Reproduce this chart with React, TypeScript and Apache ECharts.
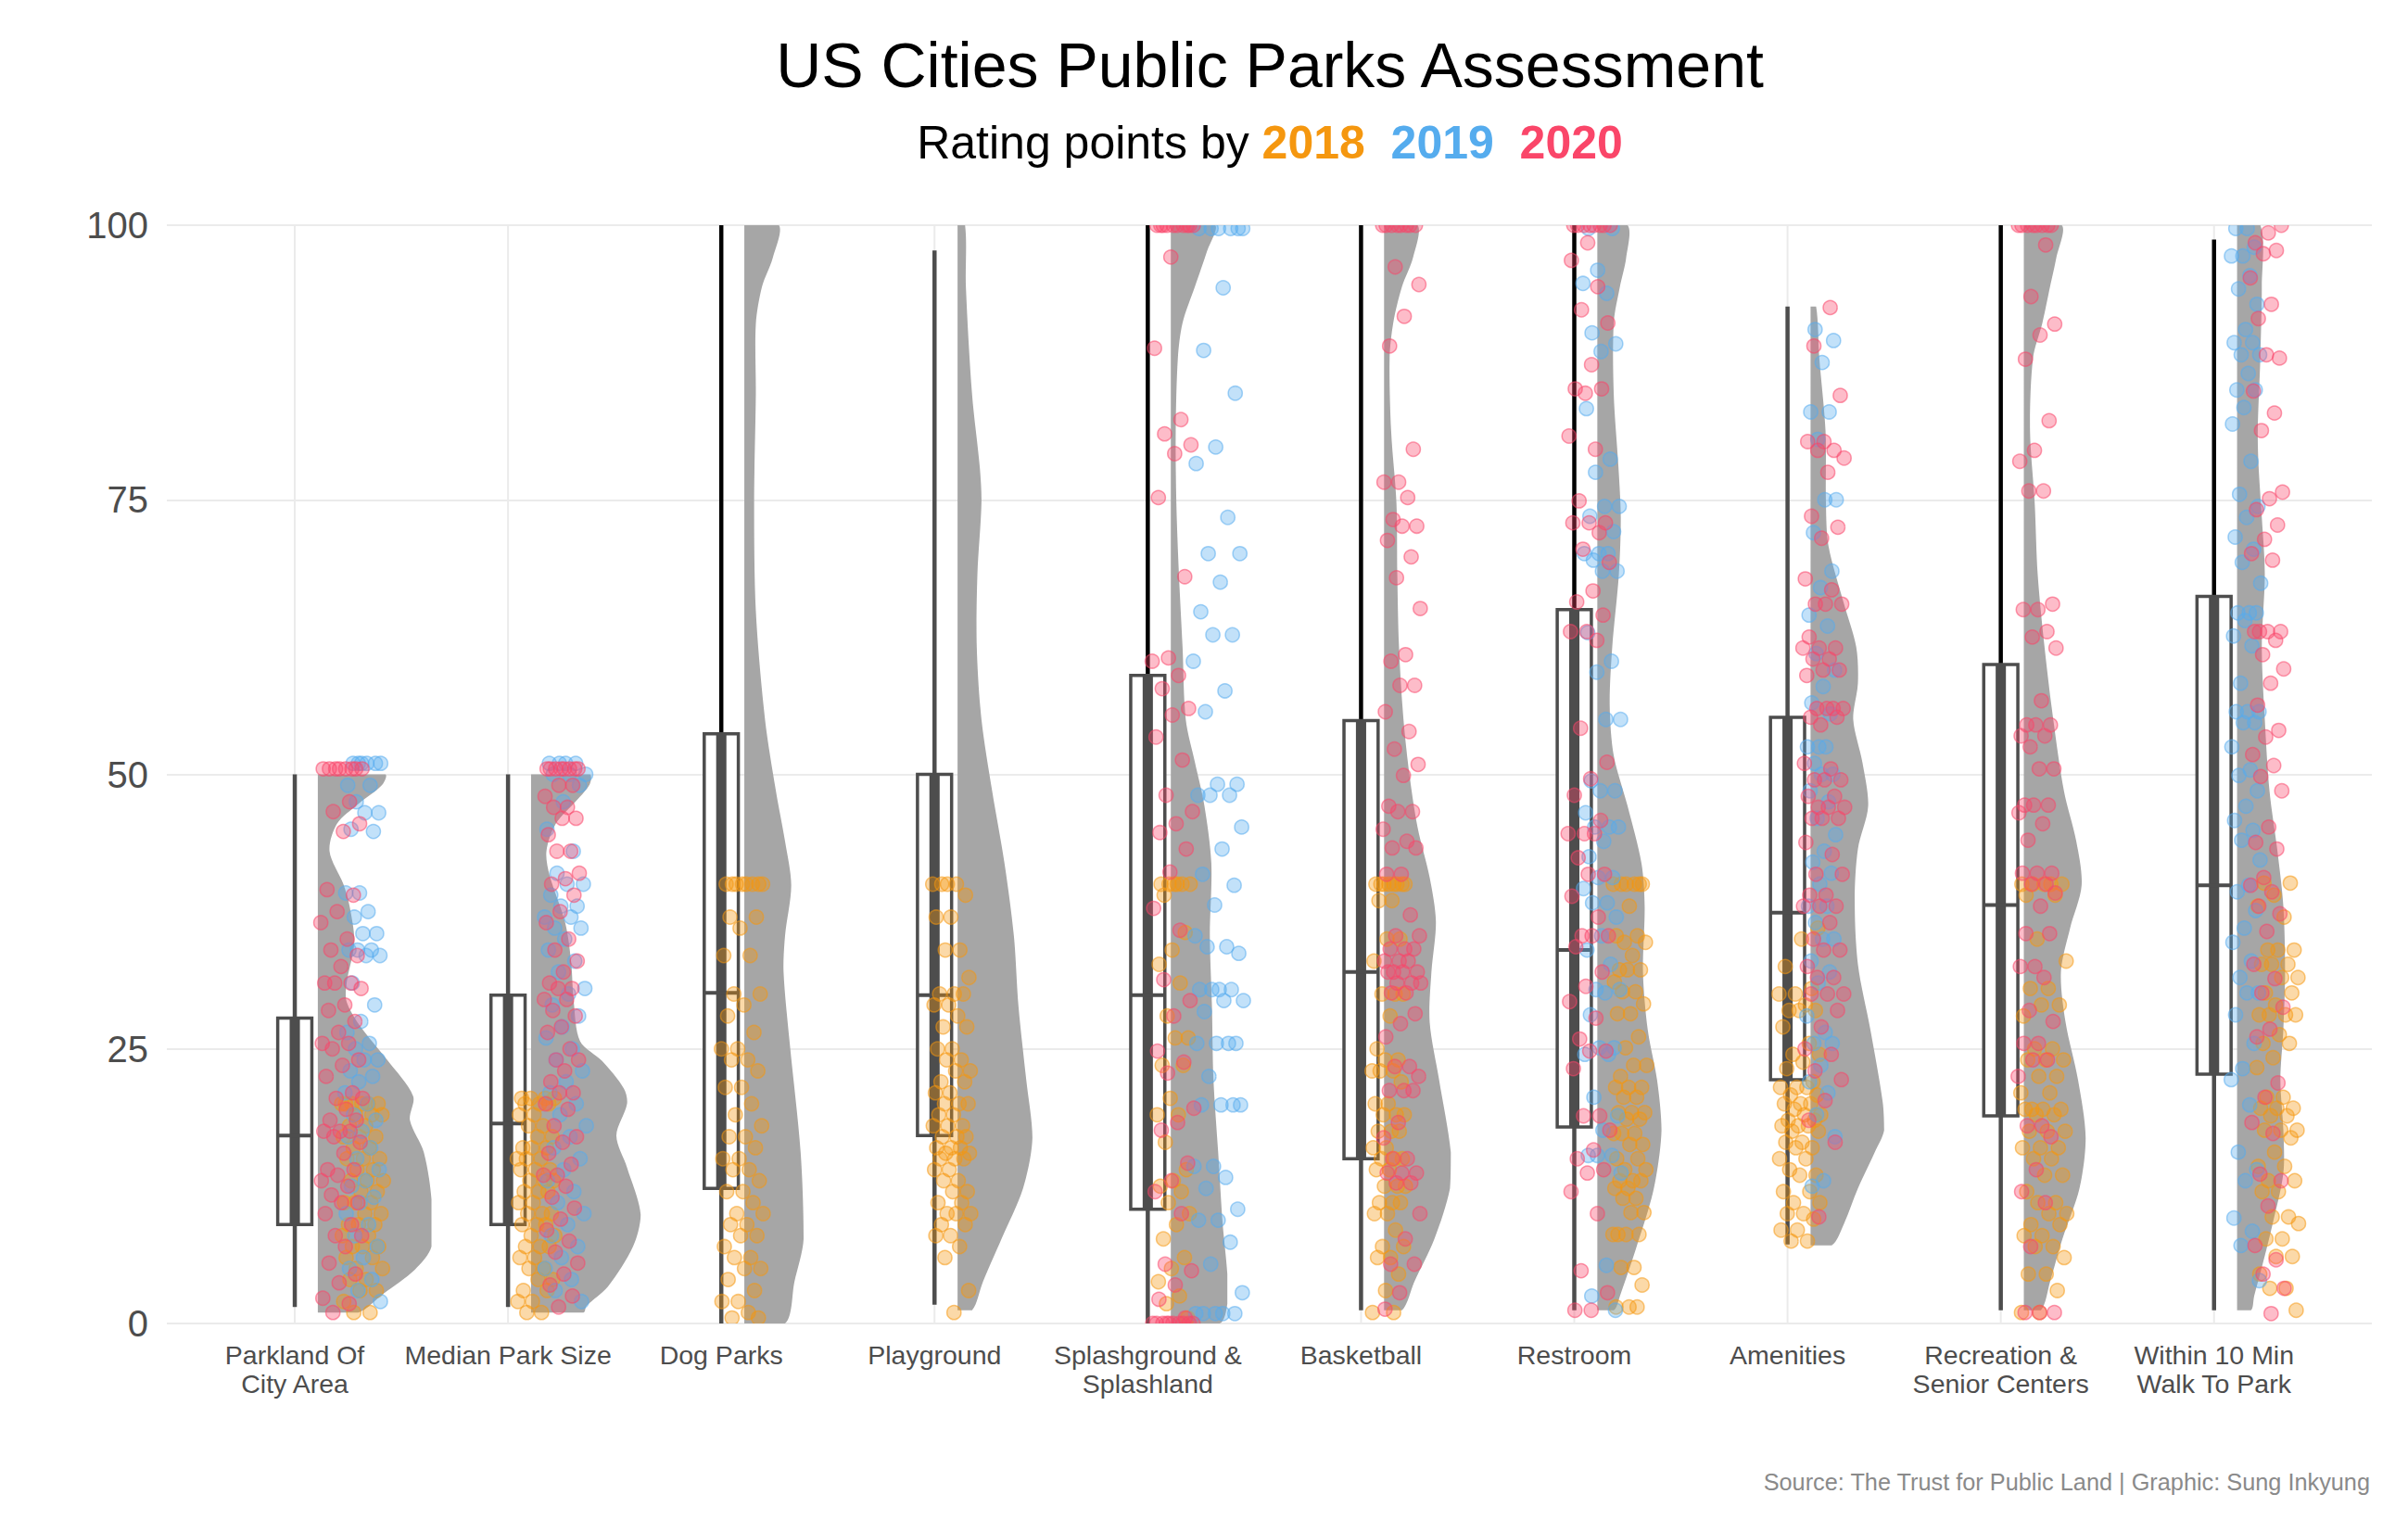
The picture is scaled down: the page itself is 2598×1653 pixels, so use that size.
import React, { useEffect, useRef } from "react";
import * as echarts from "echarts";

const FONT = "'Liberation Sans', Arial, Helvetica, sans-serif";

// ---------- categories & ticks ----------
const categories = [
  "Parkland Of\nCity Area",
  "Median Park Size",
  "Dog Parks",
  "Playground",
  "Splashground &\nSplashland",
  "Basketball",
  "Restroom",
  "Amenities",
  "Recreation &\nSenior Centers",
  "Within 10 Min\nWalk To Park",
];
const catPositions = [1, 2, 3, 4, 5, 6, 7, 8, 9, 10];
const yTicks = [0, 25, 50, 75, 100];
const years = ["2018", "2019", "2020"];
const yearFill = ["rgba(245,151,15,0.36)", "rgba(85,172,238,0.36)", "rgba(250,70,105,0.36)"];
const yearStroke = ["rgba(245,151,15,0.55)", "rgba(85,172,238,0.55)", "rgba(250,70,105,0.55)"];
const yearText = ["#F5970F", "#55ACEE", "#FA4669"];

// ---------- box statistics ----------
const whiskerLow = [1.5, 1.5, 0, 1.7, 0, 1.2, 1.2, 7.2, 1.2, 1.2];
const boxQ1 = [9, 9, 12.3, 17.1, 10.4, 15, 17.9, 22.2, 18.9, 22.7];
const boxMedian = [17.1, 18.2, 30.1, 29.9, 29.9, 32, 34, 37.4, 38.1, 39.9];
const boxQ3 = [27.8, 29.9, 53.7, 50, 59, 54.9, 65, 55.2, 60, 66.2];
const whiskerHigh = [50, 50, 100, 97.7, 100, 100, 100, 92.6, 100, 98.7];

// ---------- half-violin density profiles: [value, width] ----------
const violinParkland = [[1,0.19],[2.7,0.307],[4.9,0.455],[7,0.533],[11.3,0.533],[15.6,0.497],[18.5,0.432],[20.7,0.447],[24,0.325],[27.2,0.194],[29.3,0.135],[31,0.135],[34.7,0.171],[38,0.149],[40,0.12],[43,0.055],[45.5,0.09],[47.3,0.19],[49,0.3],[50,0.316]];
const violinMedian = [[1,0.246],[1.6,0.26],[3.4,0.362],[7,0.478],[9.9,0.514],[14.2,0.45],[17.1,0.4],[20,0.45],[21.4,0.435],[23.9,0.333],[25.7,0.23],[29.3,0.2],[32.9,0.188],[36.5,0.16],[40.8,0.087],[43,0.072],[45.5,0.116],[47.7,0.217],[49.1,0.275],[50,0.275]];
const violinDog = [[0,0.191],[3.8,0.235],[7.7,0.278],[15.6,0.264],[25.5,0.213],[32,0.184],[35.3,0.191],[39.9,0.22],[43.9,0.191],[48.5,0.148],[55,0.097],[64.9,0.054],[74.7,0.046],[84.6,0.054],[91,0.054],[94.4,0.083],[97,0.133],[100,0.162]];
const violinPlayground = [[1.2,0.068],[3.8,0.119],[7.7,0.206],[12.3,0.307],[16.9,0.351],[22.2,0.322],[28.8,0.286],[35.3,0.264],[41.9,0.22],[48.5,0.162],[55,0.112],[61.6,0.09],[68.2,0.093],[74.7,0.112],[78,0.104],[84.6,0.068],[94.4,0.039],[100,0.035]];
const violinSplash = [[0,0.229],[1.8,0.265],[4.5,0.265],[9.1,0.243],[15.6,0.222],[22.2,0.2],[28.8,0.193],[35.3,0.183],[41.9,0.19],[47.2,0.157],[51.1,0.113],[55,0.07],[61.6,0.055],[68.2,0.038],[74.7,0.026],[81.3,0.023],[87.9,0.033],[91.1,0.055],[94.4,0.113],[97.7,0.171],[100,0.207]];
const violinBasketball = [[1.2,0.084],[3.8,0.142],[7.7,0.236],[12.3,0.309],[15.6,0.313],[22.2,0.258],[27.4,0.214],[32,0.222],[36.6,0.243],[40.6,0.214],[45.2,0.157],[49.8,0.12],[55,0.091],[61.6,0.07],[68.2,0.062],[74.7,0.058],[81.3,0.033],[87.9,0.026],[91.1,0.043],[94.4,0.084],[97,0.135],[100,0.157]];
const violinRestroom = [[1.2,0.077],[2.5,0.106],[7.1,0.186],[12.3,0.265],[17.6,0.301],[22.2,0.28],[26.8,0.236],[32,0.214],[38,0.222],[41.9,0.207],[47.1,0.142],[51.7,0.077],[56.3,0.058],[61.6,0.07],[68.2,0.101],[73.4,0.11],[78,0.099],[84.6,0.077],[91.1,0.077],[94.4,0.106],[97,0.135],[100,0.142]];
const violinAmenities = [[7.1,0.099],[9.1,0.157],[12.3,0.222],[15.6,0.301],[17.6,0.345],[20.2,0.338],[26.8,0.28],[32.7,0.222],[38.6,0.207],[43.2,0.222],[47.1,0.27],[51.1,0.243],[55,0.2],[58.3,0.222],[61.6,0.214],[65.5,0.157],[70.8,0.084],[74.7,0.072],[81.3,0.07],[87.9,0.041],[92.6,0.026]];
const violinRecreation = [[1.2,0.08],[3.8,0.123],[7.7,0.181],[12.3,0.261],[16.9,0.29],[22.2,0.254],[27.4,0.196],[32,0.174],[36,0.217],[39.9,0.271],[43.9,0.246],[48.5,0.188],[55,0.138],[61.6,0.097],[68.2,0.065],[74.7,0.051],[81.3,0.029],[87.9,0.043],[91.1,0.087],[94.4,0.123],[97,0.152],[100,0.178]];
const violinWithin = [[1.2,0.065],[2.5,0.08],[5.1,0.116],[9.1,0.167],[13.7,0.217],[17.6,0.217],[22.2,0.203],[26.8,0.217],[32,0.225],[38,0.217],[43.2,0.188],[48.5,0.152],[55,0.13],[61.6,0.116],[68.2,0.13],[73.4,0.116],[78,0.101],[81.3,0.097],[87.9,0.109],[94.4,0.116],[100,0.109]];
const violins = [violinParkland, violinMedian, violinDog, violinPlayground, violinSplash, violinBasketball, violinRestroom, violinAmenities, violinRecreation, violinWithin];

// ---------- rating points ----------
const parkland2018 = [20,20,20,20,20,20,19,19,19,18,18,17,17,17,16,16,15,15,15,14,14,13,13,13,12,12,11,11,11,10,10,9,9,9,8,8,7,7,7,6,6,5,5,4,4,3,3,2,1,1];
const parkland2019 = [51,51,51,51,51,51,49,49,47.5,46.5,46.5,45,44.8,39.2,39.2,37.5,37,35.5,35.5,34,34,34,33.5,33.5,31,29,27.5,26.5,25.5,25,24,24,23,22.5,22,21,20,19,18.5,17.5,17,16,15,14,13,12.5,11.5,11,10,9,8,7,6,5,4,3,2];
const parkland2020 = [50.5,50.5,50.5,50.5,50.5,50.5,50.5,50.5,47.5,46.6,45.5,44.8,39.5,39,37.5,36.5,35,34,33.5,32.5,31,31,31,30.5,29,28.5,27.5,26.5,25.5,25.5,25,24,23.5,22.5,21,20.5,20.5,19.5,18.5,18.5,17.5,17.5,17.5,17,16.5,15.5,14,14,13.5,13,12.5,11.7,11,11,10,9,8,8,7,5.5,4.5,3.7,2.3,1.8,1];
const median2018 = [20.5,20.5,20.5,20.5,20,20,20,19,19,18,18,17,17,16,16,16,15,15,15,14,14,14,13,13,13,12,12,12,11,11,10,10,10,9,9,9,8,8,7,7,7,6,6,5,5,4,4,3,3,2,2,1,1];
const median2019 = [51,51,51,51,50,50,50,49,47.5,45,43,41,40,40,39,38,38,37,37,36,36,35,34,33,32,30.5,30,29,28,27,26,25,24,23,22,21,20,19,18,17,16,15,14,13,12,11,10,9,8,7,6,5,4,3,2];
const median2020 = [50.5,50.5,50.5,50.5,50.5,50.5,50.5,50.5,49,49,48,47,47,46,46,44.5,43,43,41,40.5,40,39,37.5,36.5,35,34,33,32,31,30.5,30.5,29.5,29.5,28.5,28,27,26.5,25,24,24,23,22,21,21,20,19.5,18,17,16.5,15.5,14.5,13.5,13.5,12.5,11.5,10.5,9.5,8.5,7.5,6.5,5.5,4.5,3.5,2.5,1.5];
const dog2018 = [40,40,40,40,40,40,40,40,37,37,36,33.5,33.5,30,30,29,28,26.5,25,25,24,24,23,21.5,21.5,20,19,18,17,17,16,15,15,14,14,13,12,12,11,10,10,9,9,8,8,7,6,6,5,5,4,3,2,2,1,0.5,0.5];
const dog2019: number[] = [];
const dog2020: number[] = [];
const playground2018 = [40,40,40,40,39,37,37,34,34,31.5,30,30,30,29,29,28,27,27,25,25,24,24,23,23,22,22,21,21,20,20,20,19,19,18,18,18,17,17,17,16,16,16,15.5,15.5,15,15,15,14,14,13,13,12,12,11,11,10,10,10,9,9,8,8,7,6,3,1];
const playground2019: number[] = [];
const playground2020: number[] = [];
const splash2018 = [40,40,40,40,40,40,39,35.6,34,32.7,31,28,26,26,23.5,23.5,20.5,19,19,16.5,14,13,12.5,12,11,10,9,7.7,6,5,3.8,2.5,1.8,0.5];
const splash2019 = [99.7,99.7,99.7,99.7,99.7,99.7,94.3,88.6,84.7,79.8,78.3,73.4,70.1,70.1,67.5,64.8,62.7,62.7,60.3,57.6,55.7,49.1,49.1,48.1,48.1,48.1,45.2,43.2,40.9,39.9,38.1,35.3,34.3,34.3,33.7,30.4,30.4,30.4,30.4,29.4,29.4,28.4,25.5,25.5,25.5,25.5,22.5,19.9,19.9,19.9,19.9,14.3,14.3,13.3,12.3,10.4,9.4,9.4,7.4,5.4,2.8,0.9,0.9,0.9,0.9,0.9];
const splash2020 = [100,100,100,100,100,100,100,100,100,100,97.1,88.8,82.3,81,80,79.2,75.2,68,60.6,60.3,59,57.8,56,55.4,53.4,51.3,48.1,46.6,45.5,44.7,43.2,41.1,37.8,35.8,31.3,29.4,28,24.8,23.8,22.8,19.6,18.3,17.6,14.6,13,12,10,5.4,4.8,3.5,2.2,0.5,0,0,0,0,0,0,0,0,0,0];
const basketball2018 = [40,40,40,40,40,40,40,40,38.5,38.5,35,35,33,30,30,30,28,25,24,24,23,23,23,22,20,20,19,19,19,17.5,17.5,17.5,16,16,15,15,15,14,14,12.5,12.5,12.5,11,11,11,10,10,8.5,7,7,6,6,4.5,3,1,1];
const basketball2019: number[] = [];
const basketball2020 = [100,100,100,100,100,100,100,100,96.2,94.6,91.7,89,79.6,76.6,76.6,75.2,73.2,72.6,72.6,71.3,69.8,67.9,65.1,60.9,60.3,58.1,58.1,55.7,53.9,52.3,50.9,49.9,47.1,46.6,46.6,45,43.9,43.3,43.3,40.9,40.9,37.2,35.3,35.3,34.1,34.1,34.1,33,33,33,32,32,32,32,31,31,31,30.1,30.1,28.2,27.3,26.1,23.4,23.4,22.5,21.2,21.2,21.2,18.3,16.9,15,15,13.7,13.7,13.7,12.8,12.8,10,7.7,5.4,5.4,2.8,1.3];
const restroom2018 = [40,40,40,40,40,40,38,35.3,35.3,34.7,34.7,33.5,32.2,32.2,32.2,31.1,30.2,30.2,29.1,28.2,28.2,26.1,25.1,23.5,23.5,22.5,21.5,21.5,21.5,20.6,20.6,19.2,19.2,19.2,18.6,18.6,17.3,17.3,17.3,16.3,16.3,15,15,14,14,13,13,13,12.3,12.3,11.4,11.4,10.1,10.1,8.1,8.1,8.1,8.1,5.1,5.1,3.5,1.5,1.5,1.5];
const restroom2019 = [99.7,99.7,95.9,94.7,93.8,90.2,89.2,88.5,83.3,78.7,77.5,74.4,74.4,73.5,72.1,70.1,70.1,70.1,69.5,68.5,68.5,62.9,60.3,59.3,55,55,49.4,48.5,48.5,46.5,45.2,45.2,45.2,43.9,42.5,40.6,40.6,39.6,38.3,38.3,37,35.3,34,32.7,30.4,30.4,30.1,28.1,25.1,25.1,24.5,24.5,20.6,18.9,17.6,15.3,15.3,15.3,13.7,5.3,2.5,1.2];
const restroom2020 = [100,100,100,100,100,100,100,100,98.4,96.8,94.4,92.3,91.1,87.3,85.1,85.1,84.7,80.8,79.6,74.9,72.9,72.9,72.9,72,70.5,69.3,66.7,65.7,64.5,63,63,62.2,54.2,51.1,49.6,48.1,45.8,44.6,44.6,44.6,42.4,40.9,40.9,38.9,37,35.3,35.3,35.3,34.3,32,30.7,29.3,27.8,25.9,24.8,24.8,23.2,18.9,18.9,17.6,15.8,15,14,13.7,12,10,4.8,2.8,1.2,1.2];
const amenities2018 = [36,35,32.5,30.5,30,30,29,28.5,28.5,28.5,27,25.5,24.5,24.5,23.8,23.2,22,21.5,21.5,21.5,20.8,20.8,20,20,20,19.5,19,19,18.5,18.5,18,18,18,17.5,17.5,16.5,16.5,16,16,15,15,14,13.5,13.5,12,12,11,11,10,10,9.5,8.5,8.5,7.5,7.5];
const amenities2019 = [90.5,89.5,87.5,83,83,80.5,75,75,72,68.5,67,64.5,63.5,61,59.5,58,56.5,55.5,52.5,52.5,52.5,51,50,50,48.5,47.5,46,44.5,43,42,41,40,38,38,36.5,35,35,33,32,31,28,26.5,25.5,25.5,23.5,22,21,19,17,13,12.5];
const amenities2020 = [92.5,89,84.5,80.3,80.3,79.5,79.5,78.8,77.5,73.5,72.5,71.5,67.8,66.8,65.5,65.5,65.5,62.5,61.5,61.5,61.5,60.5,60.5,59.5,59.5,59,56,56,56,56,55.2,55.2,54.5,51,50.5,49.5,49.5,49.5,48,48,47,47,47,46,46,46,43.8,42.7,40.9,40.9,39,39,38,38,38,36.5,35,34,34,32.5,31.5,31.5,30,30,30,28.5,27,25,24.5,23,22.2,20.3,18.5,16.5,9.7];
const recreation2018 = [40,40,40,40,40,39,39,35,33,30.5,30.5,29,29,28,25,25,24,24,24,22.5,22.5,21,21,19.5,19.5,19.5,19.5,19,19,17.5,17.5,17.5,16,16,16,15,15,13.5,13.5,12,11,11,10,10,9,9,8,8,7,7,6,4.5,4.5,3,1,1];
const recreation2019: number[] = [];
const recreation2020 = [100,100,100,100,100,100,100,100,98.2,93.5,91,90,87.8,82.2,79.5,78.5,75.8,75.8,65.5,65,65,63,62.5,61.5,56.7,54.5,54.5,54.5,53.5,53.5,52.5,50.5,50.5,47.2,47.2,47.2,46.5,45.5,44,41,41,41,40,40,39.2,38,35.5,35.5,32.5,32.5,31.5,28.5,27.5,25.5,25.5,24,24,22.5,18,18,17,14,12,11,7,1,1,1];
const within2018 = [40.1,40.1,39,38,37,34,34,34,32.7,32.7,32.7,31.5,31.5,30.1,30.1,29,28.1,28.1,28.1,28.1,26.3,25.5,25.5,24.2,23.3,20.6,20.6,19.6,19.6,19.6,18.9,18.9,17.6,17.6,17.6,16.9,15.6,14.3,14.3,13,13,12,12,9.7,9.7,9.1,7.7,7.7,6.1,6.1,4.5,3.2,3.2,1.2];
const within2019 = [99.7,99.7,98,97.2,97.2,95.4,94.2,92.8,90.5,89.3,89.3,88.2,88.2,86.5,85,85,83.4,81.9,78.5,75.5,74.4,73.4,71.6,70.5,69.3,67.4,64.7,64.7,64.7,64,62.6,61.7,58.3,55.7,55.7,55.7,54.7,54.7,52.5,50.4,49.9,48.5,47.1,45.8,44.9,44,42.2,39.9,39.3,37.6,36,34.7,33,31.5,30.1,30.1,28.1,25.5,23.2,22.2,19.9,15.6,14,13,9.6,8.4,7.1,3.9];
const within2020 = [100,99.3,98.4,97.7,97.4,95.2,92.8,91.5,87.9,88.2,84.9,82.9,81.3,75.7,75.1,74.1,72.7,71.4,70.1,69.5,63,63,63,63,62.2,60.9,59.6,58.3,56.3,54,53.4,51.8,50.8,49.8,48.5,45.2,43.8,43.2,40.6,39.9,39.3,38,37.3,35.7,32.7,31.4,30.1,28.8,26.8,26.1,21.9,20.6,18.3,17.3,13.6,13,10.7,7.1,5.8,4.5,3.2,0.9];

const pointsByYear = [
  [parkland2018, median2018, dog2018, playground2018, splash2018, basketball2018, restroom2018, amenities2018, recreation2018, within2018],
  [parkland2019, median2019, dog2019, playground2019, splash2019, basketball2019, restroom2019, amenities2019, recreation2019, within2019],
  [parkland2020, median2020, dog2020, playground2020, splash2020, basketball2020, restroom2020, amenities2020, recreation2020, within2020],
];

// ---------- layout (positions / styles) ----------
const violinOffset = 0.108;
const boxHalf = 0.08;
const stripeHalf = 0.024;
const pointRadius = 7.6;
const upperWhiskerColor = ["#4D4D4D", "#4D4D4D", "#000000", "#4D4D4D", "#000000", "#000000", "#000000", "#4D4D4D", "#000000", "#000000"];
// [center offset, half width] of the horizontal jitter band per year and category
const jitterLayout = [
  [[0.32,0.1],[0.13,0.09],[0.1,0.1],[0.08,0.09],[0.12,0.08],[0.13,0.08],[0.26,0.08],[0.06,0.1],[0.2,0.11],[0.3,0.1]],
  [[0.32,0.085],[0.27,0.1],[0,0],[0,0],[0.33,0.12],[0,0],[0.13,0.09],[0.16,0.07],[0,0],[0.15,0.07]],
  [[0.22,0.1],[0.25,0.085],[0,0],[0,0],[0.12,0.1],[0.19,0.09],[0.07,0.1],[0.17,0.1],[0.17,0.09],[0.25,0.08]],
];
function jitterUnit(k: number, seed: number) {
  const f = (k * 0.6180339887 + seed) % 1;
  return f * 2 - 1;
}
function buildPoints(y: number) {
  const out: number[][] = [];
  pointsByYear[y].forEach((vals, c) => {
    const [center, hw] = jitterLayout[y][c];
    vals.forEach((v, k) => {
      out.push([catPositions[c] + center + hw * jitterUnit(k, 0.37 * y + 0.13 * c), v]);
    });
  });
  return out;
}

export default function App() {
  const ref = useRef<HTMLDivElement>(null);
  useEffect(() => {
    if (!ref.current) return;
    const chart = echarts.init(ref.current, undefined, { renderer: "svg" });

    const pointSeries = years.map((yr, y) => ({
      type: "custom",
      name: yr,
      silent: true,
      clip: true,
      z: 10 + y,
      encode: { x: 0, y: 1 },
      data: buildPoints(y),
      renderItem: (params: any, api: any) => {
        const p = api.coord([api.value(0), api.value(1)]);
        return {
          type: "circle",
          shape: { cx: p[0], cy: p[1], r: pointRadius },
          style: { fill: yearFill[y], stroke: yearStroke[y], lineWidth: 1.5 },
        };
      },
    }));

    const option: any = {
      animation: false,
      backgroundColor: "#ffffff",
      grid: { left: 180, right: 39, top: 243, bottom: 225, containLabel: false, outerBoundsMode: "none" },
      xAxis: {
        type: "value",
        min: 0.4,
        max: 10.74,
        axisLine: { show: false },
        axisTick: { show: false },
        splitLine: { show: false },
        axisLabel: {
          customValues: catPositions,
          formatter: (v: number) => categories[Math.round(v) - 1] ?? "",
          fontSize: 28.5,
          lineHeight: 31,
          color: "#4D4D4D",
          fontFamily: FONT,
          margin: 18,
        },
      },
      yAxis: {
        type: "value",
        min: yTicks[0],
        max: yTicks[yTicks.length - 1],
        interval: 25,
        axisLine: { show: false },
        axisTick: { show: false },
        splitLine: { lineStyle: { color: "#EBEBEB", width: 2 } },
        axisLabel: { fontSize: 40, color: "#4D4D4D", fontFamily: FONT, margin: 20 },
      },
      graphic: [
        {
          type: "text",
          x: 1370,
          y: 70,
          style: {
            text: "US Cities Public Parks Assessment",
            fontSize: 68,
            fontFamily: FONT,
            fill: "#000000",
            textAlign: "center",
            verticalAlign: "middle",
            textVerticalAlign: "middle",
          },
        },
        {
          type: "text",
          x: 1370,
          y: 154,
          style: {
            text: `{n|Rating points by }{o|${years[0]}}{n|  }{b|${years[1]}}{n|  }{r|${years[2]}}`,
            textAlign: "center",
            verticalAlign: "middle",
            textVerticalAlign: "middle",
            rich: {
              n: { fontSize: 50, fontFamily: FONT, fill: "#000000", color: "#000000" },
              o: { fontSize: 50, fontFamily: FONT, fontWeight: "bold", fill: yearText[0], color: yearText[0] },
              b: { fontSize: 50, fontFamily: FONT, fontWeight: "bold", fill: yearText[1], color: yearText[1] },
              r: { fontSize: 50, fontFamily: FONT, fontWeight: "bold", fill: yearText[2], color: yearText[2] },
            },
          },
        },
        {
          type: "text",
          x: 2557,
          y: 1599,
          style: {
            text: "Source: The Trust for Public Land | Graphic: Sung Inkyung",
            fontSize: 25.3,
            fontFamily: FONT,
            fill: "#8A8A8A",
            textAlign: "right",
            verticalAlign: "middle",
            textVerticalAlign: "middle",
          },
        },
      ],
      series: [
        {
          type: "custom",
          silent: true,
          z: 1,
          encode: { x: 0, y: 1 },
          data: catPositions.map((p) => [p, 0]),
          renderItem: (params: any, api: any) => {
            const x = api.coord([api.value(0), 0])[0];
            const cs = params.coordSys;
            return {
              type: "line",
              shape: { x1: x, y1: cs.y, x2: x, y2: cs.y + cs.height },
              style: { stroke: "#EBEBEB", lineWidth: 2 },
            };
          },
        },
        {
          type: "custom",
          silent: true,
          clip: true,
          z: 2,
          encode: { x: 0, y: 1 },
          data: catPositions.map((p) => [p, 0]),
          renderItem: (params: any, api: any) => {
            const i = params.dataIndex;
            const prof = violins[i];
            const x0 = catPositions[i] + violinOffset;
            const left = prof.map(([v]) => api.coord([x0, v]));
            const right = prof.slice().reverse().map(([v, w]) => api.coord([x0 + w, v]));
            const pts = left.concat(right);
            let minX = Infinity, minY = Infinity, maxX = -Infinity, maxY = -Infinity;
            pts.forEach((p: number[]) => {
              minX = Math.min(minX, p[0]); maxX = Math.max(maxX, p[0]);
              minY = Math.min(minY, p[1]); maxY = Math.max(maxY, p[1]);
            });
            return {
              type: "polygon",
              shape: { points: pts, smooth: 0.3, smoothConstraint: [[minX, minY], [maxX, maxY]] },
              style: { fill: "#A6A6A6" },
            };
          },
        },
        {
          type: "custom",
          silent: true,
          z: 3,
          encode: { x: 0, y: [1, 2, 3, 4, 5] },
          data: catPositions.map((p, i) => [p, whiskerLow[i], boxQ1[i], boxMedian[i], boxQ3[i], whiskerHigh[i]]),
          renderItem: (params: any, api: any) => {
            const i = params.dataIndex;
            const x = api.value(0);
            const cx = api.coord([x, 0])[0];
            const yLow = api.coord([x, api.value(1)])[1];
            const yQ1 = api.coord([x, api.value(2)])[1];
            const yMed = api.coord([x, api.value(3)])[1];
            const yQ3 = api.coord([x, api.value(4)])[1];
            const yHigh = api.coord([x, api.value(5)])[1];
            const xl = api.coord([x - boxHalf, 0])[0];
            const xr = api.coord([x + boxHalf, 0])[0];
            const sl = api.coord([x - stripeHalf, 0])[0];
            const sr = api.coord([x + stripeHalf, 0])[0];
            return {
              type: "group",
              children: [
                { type: "line", shape: { x1: cx, y1: yQ1, x2: cx, y2: yLow }, style: { stroke: "#4D4D4D", lineWidth: 4.5 } },
                { type: "line", shape: { x1: cx, y1: yQ3, x2: cx, y2: yHigh }, style: { stroke: upperWhiskerColor[i], lineWidth: 4.5 } },
                { type: "rect", shape: { x: xl, y: yQ3, width: xr - xl, height: yQ1 - yQ3 }, style: { fill: "#ffffff", stroke: "#4D4D4D", lineWidth: 3.5 } },
                { type: "rect", shape: { x: sl, y: yQ3, width: sr - sl, height: yQ1 - yQ3 }, style: { fill: "#4D4D4D" } },
                { type: "line", shape: { x1: xl, y1: yMed, x2: xr, y2: yMed }, style: { stroke: "#4D4D4D", lineWidth: 4 } },
              ],
            };
          },
        },
        ...pointSeries,
      ],
    };
    chart.setOption(option);
    return () => chart.dispose();
  }, []);
  return (
    <div
      ref={ref}
      style={{ position: "absolute", left: 0, top: 0, width: 2598, height: 1653, background: "#ffffff" }}
    />
  );
}
